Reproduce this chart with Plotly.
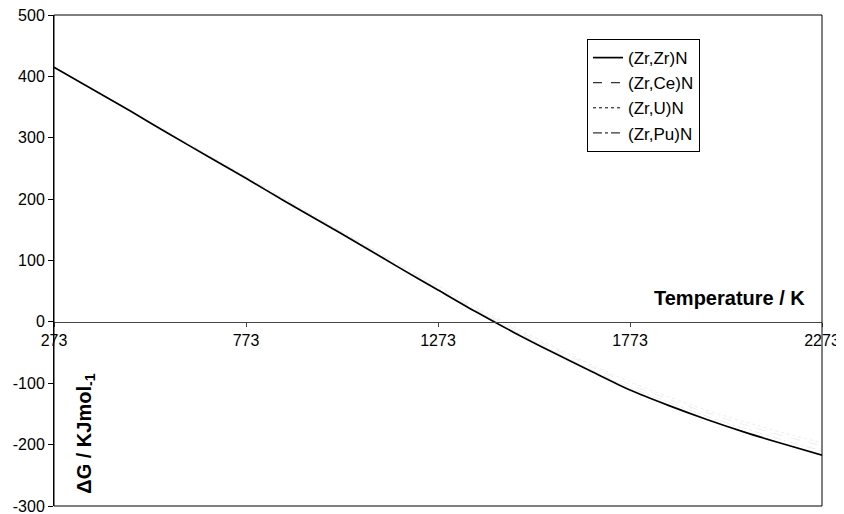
import plotly.graph_objects as go

temperature = [273, 373, 473, 573, 673, 773, 873, 973, 1073, 1173, 1273,
               1373, 1473, 1573, 1673, 1773, 1873, 1973, 2073, 2173, 2273]
dg_zrzr = [415, 379, 343, 306, 270, 234, 197, 161, 125, 88, 52,
           16, -18, -50, -81, -111, -136, -159, -180, -199, -217]
dg_zrce = [415, 379, 344, 308, 272, 236, 200, 164, 128, 92, 57,
           21, -12, -43, -73, -102, -126, -148, -168, -186, -202]
dg_zru = [415, 380, 344, 308, 273, 237, 201, 165, 130, 94, 59,
          24, -9, -40, -70, -98, -122, -144, -163, -181, -197]
dg_zrpu = [415, 379, 343, 307, 271, 235, 199, 163, 127, 90, 54,
           19, -15, -47, -78, -107, -131, -154, -174, -193, -210]

x_ticks = [273, 773, 1273, 1773, 2273]
y_ticks = [-300, -200, -100, 0, 100, 200, 300, 400, 500]
names = ["(Zr,Zr)N", "(Zr,Ce)N", "(Zr,U)N", "(Zr,Pu)N"]
dashes = ["solid", "dash", "dot", "dashdot"]

FONT = "Liberation Sans, Arial, sans-serif"
fig = go.Figure()

# faint series (as rendered almost invisibly in the original)
for vals, dash in zip([dg_zrce, dg_zru, dg_zrpu], dashes[1:]):
    fig.add_trace(go.Scatter(x=temperature, y=vals, mode="lines", showlegend=False,
                             line=dict(color="rgb(238,238,238)", width=1, dash=dash,
                                       shape="spline", smoothing=0.8),
                             hoverinfo="skip"))

fig.add_trace(go.Scatter(x=temperature, y=dg_zrzr, mode="lines", name=names[0],
                         line=dict(color="black", width=1.7, shape="spline", smoothing=0.8)))

# legend entries for the other series
for name, dash in zip(names[1:], dashes[1:]):
    fig.add_trace(go.Scatter(x=[None], y=[None], mode="lines", name=name,
                             line=dict(color="black", width=1, dash=dash)))

# page body has an 8px margin, so the figure is 8px smaller and margins shifted
fig.update_layout(
    width=836, height=506,
    margin=dict(l=46, r=22, t=7, b=8, pad=0, autoexpand=False),
    plot_bgcolor="white", paper_bgcolor="white",
    font=dict(family=FONT, size=16, color="black"),
    showlegend=True,
    legend=dict(x=0.694, y=0.951, xanchor="left", yanchor="top",
                bgcolor="white", bordercolor="black", borderwidth=1,
                font=dict(family=FONT, size=17, color="black"),
                tracegroupgap=0),
    xaxis=dict(range=[273, 2273], tickvals=x_ticks, ticktext=[str(v) for v in x_ticks],
               anchor="free", position=0.375, showline=True, linecolor="#444",
               linewidth=1, ticks="outside", ticklen=4, tickcolor="#444",
               showgrid=False, zeroline=False, automargin=False,
               ticklabeloverflow="allow",
               tickfont=dict(family=FONT, size=16, color="black")),
    yaxis=dict(range=[-300, 500], tickvals=y_ticks, ticktext=[str(v) for v in y_ticks],
               showline=True, linecolor="black",
               linewidth=1, ticks="outside", ticklen=5, tickcolor="black",
               showgrid=False, zeroline=False, automargin=False,
               ticklabeloverflow="allow",
               tickfont=dict(family=FONT, size=16, color="black")),
    shapes=[dict(type="rect", xref="paper", yref="paper", x0=0, x1=1, y0=0, y1=1,
                 line=dict(color="black", width=1))],
    annotations=[
        dict(text="<b>Temperature / K</b>", xref="paper", yref="paper",
             x=0.981, y=0.4236, xanchor="right", yanchor="middle", showarrow=False,
             font=dict(family=FONT, size=20, color="black")),
        dict(text="<b>ΔG / KJmol<sub>-1</sub></b>", xref="paper", yref="paper",
             x=0.040, y=0.1466, xanchor="center", yanchor="middle", showarrow=False,
             textangle=-90, font=dict(family=FONT, size=20, color="black")),
    ],
)

fig.write_html("out.html")
